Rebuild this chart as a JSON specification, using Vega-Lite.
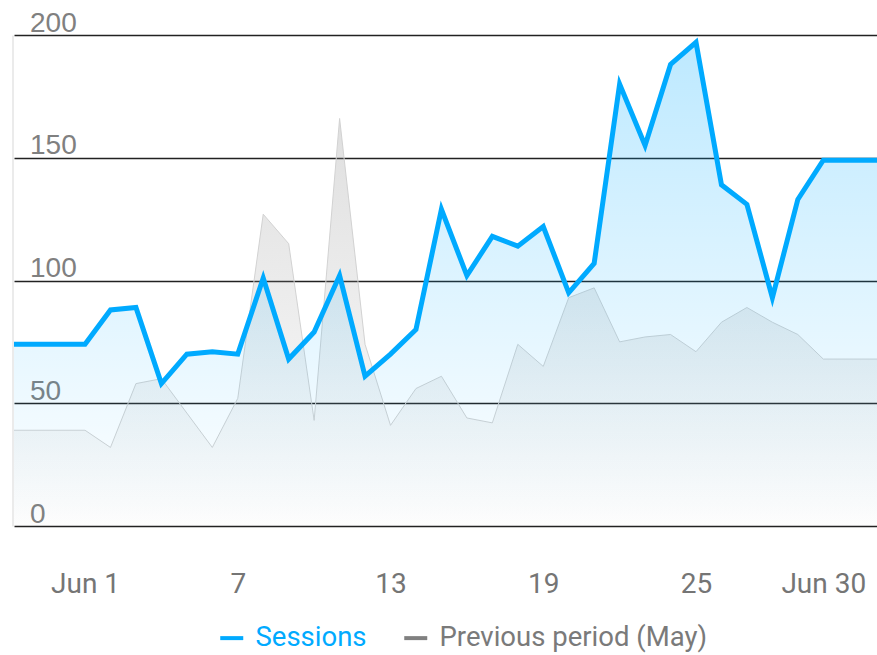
{
  "$schema": "https://vega.github.io/schema/vega-lite/v6.json",
  "autosize": {"type": "none"},
  "width": 863,
  "height": 491,
  "padding": {"left": 14, "top": 35, "right": 0, "bottom": 129},
  "background": "#ffffff",
  "config": {"view": {"stroke": null}},
  "data": {
    "values": [
      {"day": -2, "series": "Sessions", "value": 74},
      {"day": 1, "series": "Sessions", "value": 74},
      {"day": 2, "series": "Sessions", "value": 88},
      {"day": 3, "series": "Sessions", "value": 89},
      {"day": 4, "series": "Sessions", "value": 58},
      {"day": 5, "series": "Sessions", "value": 70},
      {"day": 6, "series": "Sessions", "value": 71},
      {"day": 7, "series": "Sessions", "value": 70},
      {"day": 8, "series": "Sessions", "value": 101},
      {"day": 9, "series": "Sessions", "value": 68},
      {"day": 10, "series": "Sessions", "value": 79},
      {"day": 11, "series": "Sessions", "value": 102},
      {"day": 12, "series": "Sessions", "value": 61},
      {"day": 13, "series": "Sessions", "value": 70},
      {"day": 14, "series": "Sessions", "value": 80},
      {"day": 15, "series": "Sessions", "value": 129},
      {"day": 16, "series": "Sessions", "value": 102},
      {"day": 17, "series": "Sessions", "value": 118},
      {"day": 18, "series": "Sessions", "value": 114},
      {"day": 19, "series": "Sessions", "value": 122},
      {"day": 20, "series": "Sessions", "value": 95},
      {"day": 21, "series": "Sessions", "value": 107},
      {"day": 22, "series": "Sessions", "value": 180},
      {"day": 23, "series": "Sessions", "value": 155},
      {"day": 24, "series": "Sessions", "value": 188},
      {"day": 25, "series": "Sessions", "value": 197},
      {"day": 26, "series": "Sessions", "value": 139},
      {"day": 27, "series": "Sessions", "value": 131},
      {"day": 28, "series": "Sessions", "value": 93},
      {"day": 29, "series": "Sessions", "value": 133},
      {"day": 30, "series": "Sessions", "value": 149},
      {"day": 33, "series": "Sessions", "value": 149},
      {"day": -2, "series": "Previous period (May)", "value": 39},
      {"day": 1, "series": "Previous period (May)", "value": 39},
      {"day": 2, "series": "Previous period (May)", "value": 32},
      {"day": 3, "series": "Previous period (May)", "value": 58},
      {"day": 4, "series": "Previous period (May)", "value": 60},
      {"day": 5, "series": "Previous period (May)", "value": 46},
      {"day": 6, "series": "Previous period (May)", "value": 32},
      {"day": 7, "series": "Previous period (May)", "value": 52},
      {"day": 8, "series": "Previous period (May)", "value": 127},
      {"day": 9, "series": "Previous period (May)", "value": 115},
      {"day": 10, "series": "Previous period (May)", "value": 43},
      {"day": 11, "series": "Previous period (May)", "value": 166},
      {"day": 12, "series": "Previous period (May)", "value": 74},
      {"day": 13, "series": "Previous period (May)", "value": 41},
      {"day": 14, "series": "Previous period (May)", "value": 56},
      {"day": 15, "series": "Previous period (May)", "value": 61},
      {"day": 16, "series": "Previous period (May)", "value": 44},
      {"day": 17, "series": "Previous period (May)", "value": 42},
      {"day": 18, "series": "Previous period (May)", "value": 74},
      {"day": 19, "series": "Previous period (May)", "value": 65},
      {"day": 20, "series": "Previous period (May)", "value": 93},
      {"day": 21, "series": "Previous period (May)", "value": 97},
      {"day": 22, "series": "Previous period (May)", "value": 75},
      {"day": 23, "series": "Previous period (May)", "value": 77},
      {"day": 24, "series": "Previous period (May)", "value": 78},
      {"day": 25, "series": "Previous period (May)", "value": 71},
      {"day": 26, "series": "Previous period (May)", "value": 83},
      {"day": 27, "series": "Previous period (May)", "value": 89},
      {"day": 28, "series": "Previous period (May)", "value": 83},
      {"day": 29, "series": "Previous period (May)", "value": 78},
      {"day": 30, "series": "Previous period (May)", "value": 68},
      {"day": 33, "series": "Previous period (May)", "value": 68}
    ]
  },
  "encoding": {
    "x": {
      "field": "day",
      "type": "quantitative",
      "scale": {"domain": [-1.79, 32.11], "nice": false, "zero": false},
      "axis": {
        "title": null,
        "values": [1, 7, 13, 19, 25, 30],
        "labelExpr": "datum.value == 1 ? 'Jun 1' : datum.value == 30 ? 'Jun 30' : datum.label",
        "grid": false,
        "domain": false,
        "ticks": false,
        "tickSize": 0,
        "labelPadding": 44,
        "labelFont": "Roboto",
        "labelFontSize": 28,
        "labelColor": "#757575",
        "labelFlush": false,
        "labelOverlap": false
      }
    },
    "y": {
      "field": "value",
      "type": "quantitative",
      "scale": {"domain": [0, 200], "nice": false},
      "axis": {
        "title": null,
        "values": [0, 50, 100, 150, 200],
        "grid": true,
        "gridColor": "#222222",
        "gridWidth": 1.5,
        "domain": true,
        "domainColor": "#ebebeb",
        "domainWidth": 2,
        "offset": 1.5,
        "ticks": false,
        "tickSize": 0,
        "labelAlign": "left",
        "labelBaseline": "alphabetic",
        "labelPadding": -17,
        "labelOffset": -4,
        "labelFont": "Liberation Sans",
        "labelFontSize": 28,
        "labelColor": "#808080"
      }
    }
  },
  "layer": [
    {
      "transform": [{"filter": "datum.series == 'Previous period (May)'"}],
      "mark": {
        "type": "area",
        "clip": true,
        "fill": {
          "gradient": "linear", "x1": 0, "y1": 0, "x2": 0, "y2": 1,
          "stops": [
            {"offset": 0, "color": "rgba(150,150,150,0.30)"},
            {"offset": 1, "color": "rgba(150,150,150,0.02)"}
          ]
        }
      }
    },
    {
      "transform": [{"filter": "datum.series == 'Previous period (May)'"}],
      "mark": {"type": "line", "clip": true, "stroke": "#d2d2d2", "strokeWidth": 1}
    },
    {
      "transform": [{"filter": "datum.series == 'Sessions'"}],
      "mark": {
        "type": "area",
        "clip": true,
        "fill": {
          "gradient": "linear", "x1": 0, "y1": 0, "x2": 0, "y2": 1,
          "stops": [
            {"offset": 0, "color": "rgba(0,170,255,0.26)"},
            {"offset": 1, "color": "rgba(0,170,255,0.0)"}
          ]
        }
      }
    },
    {
      "transform": [{"filter": "datum.series == 'Sessions'"}],
      "mark": {"type": "line", "clip": true, "strokeWidth": 5, "strokeJoin": "miter"},
      "encoding": {
        "color": {
          "field": "series",
          "type": "nominal",
          "scale": {"domain": ["Sessions", "Previous period (May)"], "range": ["#00aaff", "#808080"]},
          "legend": {
            "title": null,
            "orient": "none",
            "direction": "horizontal",
            "legendX": 204,
            "legendY": 589,
            "padding": 0,
            "symbolType": "stroke",
            "symbolSize": 529,
            "symbolStrokeWidth": 4,
            "labelFont": "Roboto",
            "labelFontSize": 27.5,
            "labelOffset": 10,
            "columnPadding": 29,
            "labelLimit": 400,
            "encode": {
              "labels": {"update": {"fill": {"signal": "datum.label == 'Sessions' ? '#00aaff' : '#7a7a7a'"}}}
            }
          }
        }
      }
    }
  ]
}
